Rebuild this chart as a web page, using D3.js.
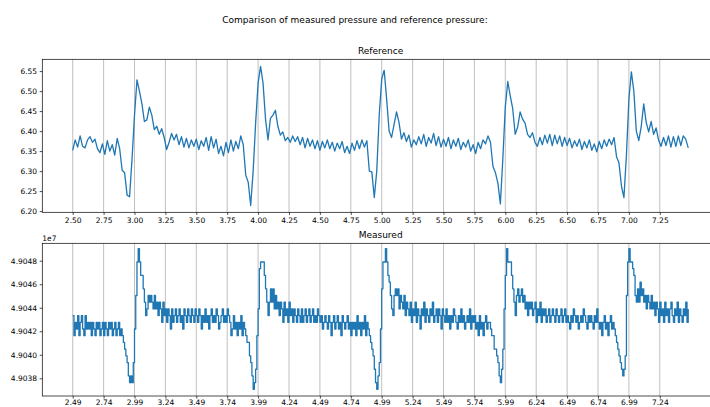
<!DOCTYPE html>
<html>
<head>
<meta charset="utf-8">
<script src="https://cdn.jsdelivr.net/npm/d3@7"></script>
<style>
html,body{margin:0;padding:0;background:#fff;}
svg{display:block;}
text{font-family:"DejaVu Sans",sans-serif;fill:#000;}
</style>
</head>
<body>
<svg id="chart" width="710" height="407"></svg>
<script>
// ---------------- DATA ----------------
const figureTitle = "Comparison of measured pressure and reference pressure:";
const topTitle = "Reference";
const bottomTitle = "Measured";

// Reference pressure, sampled every 0.02 starting at t = 2.50
const referenceStart = 2.50, referenceStep = 0.02;
const referenceValues = [
 6.352,6.378,6.360,6.388,6.362,6.358,6.378,6.386,6.372,6.380,
 6.356,6.346,6.368,6.342,6.376,6.350,6.366,6.340,6.382,6.356,
 6.302,6.296,6.240,6.236,6.330,6.440,6.528,6.500,6.468,6.424,
 6.428,6.460,6.440,6.404,6.412,6.392,6.406,6.384,6.354,6.372,
 6.394,6.378,6.392,6.366,6.386,6.360,6.382,6.358,6.378,6.362,
 6.380,6.354,6.376,6.362,6.384,6.352,6.386,6.358,6.380,6.344,
 6.362,6.338,6.372,6.346,6.378,6.350,6.374,6.356,6.388,6.366,
 6.290,6.272,6.214,6.300,6.420,6.520,6.562,6.520,6.430,6.378,
 6.432,6.440,6.452,6.412,6.390,6.398,6.376,6.384,6.372,6.388,
 6.374,6.386,6.366,6.384,6.358,6.382,6.362,6.378,6.356,6.376,
 6.352,6.374,6.358,6.378,6.356,6.372,6.350,6.370,6.356,6.374,
 6.346,6.362,6.344,6.370,6.352,6.376,6.356,6.378,6.360,6.376,
 6.300,6.298,6.234,6.300,6.440,6.530,6.552,6.480,6.400,6.384,
 6.416,6.448,6.422,6.380,6.396,6.374,6.390,6.360,6.378,6.366,
 6.386,6.368,6.392,6.362,6.384,6.370,6.394,6.364,6.386,6.360,
 6.380,6.362,6.384,6.356,6.378,6.362,6.382,6.354,6.372,6.360,
 6.378,6.350,6.366,6.344,6.372,6.356,6.378,6.368,6.388,6.372,
 6.312,6.296,6.270,6.218,6.330,6.460,6.524,6.488,6.456,6.392,
 6.410,6.448,6.430,6.420,6.392,6.384,6.396,6.372,6.362,6.384,
 6.366,6.390,6.370,6.392,6.364,6.390,6.368,6.388,6.362,6.384,
 6.364,6.382,6.358,6.376,6.362,6.380,6.354,6.374,6.358,6.378,
 6.352,6.368,6.348,6.374,6.356,6.378,6.362,6.380,6.366,6.384,
 6.336,6.320,6.262,6.234,6.340,6.480,6.548,6.500,6.400,6.376,
 6.412,6.468,6.422,6.398,6.424,6.392,6.408,6.378,6.362,6.384,
 6.364,6.388,6.360,6.386,6.362,6.388,6.364,6.388,6.380,6.358
];

// Measured pressure: the sensor is quantised, these are its levels (Pa)
const measuredLevelsPa = [
 49037060,49037630,49038200,49038770,49039340,49039910,49040480,49041050,
 49041620,49042190,49042760,49043330,49043900,49044470,49045040,49045610,
 49046180,49046750,49047320,49047890,49048460,49049030
];
// Level read at each sample, every 0.01 starting at t = 2.49
const measuredStart = 2.49, measuredStep = 0.01;
const measuredLevelIndex = [
 11,8,10,9,11,8,10,11,9,8,11,9,10,
 9,10,8,10,9,8,10,9,10,8,9,10,8,10,9,8,10,9,10,8,9,10,8,9,10,8,9,
 8,7,6,5,4,2,1,2,1,4,9,
 14,19,21,19,17,17,15,13,11,12,14,13,14,13,12,14,12,13,11,13,
 12,10,13,11,12,10,12,11,9,12,10,11,12,10,11,12,10,11,9,12,
 11,10,12,11,10,12,11,10,12,
 11,10,12,11,9,11,10,12,10,11,9,11,12,10,11,10,12,11,9,10,11,12,10,11,10,12,11,
 10,8,9,11,9,10,8,10,9,11,8,10,
 9,8,7,7,5,4,2,0,1,3,8,12,
 18,19,19,19,17,15,13,11,13,15,13,15,12,14,12,13,11,13,12,10,
 13,11,12,10,13,11,12,10,12,11,10,12,11,10,12,10,11,12,10,11,
 12,10,11,12,10,11,10,12,11,
 10,11,9,10,11,10,9,11,10,8,10,11,9,10,11,9,10,8,11,10,9,10,11,9,10,8,10,
 9,10,8,11,9,10,8,10,9,11,8,10,9,
 8,7,6,5,3,1,0,2,4,9,15,
 19,19,21,19,17,16,14,12,11,14,15,14,15,12,14,13,12,14,11,13,
 12,11,13,10,12,11,13,10,12,11,9,12,11,13,10,12,11,10,12,11,
 13,10,11,12,10,12,11,9,12,
 11,10,12,10,11,9,11,10,12,11,10,9,11,10,12,10,11,9,10,11,10,12,9,11,10,11,
 9,10,8,11,9,10,8,10,11,9,10,10,
 9,8,8,6,6,5,4,2,1,3,6,12,17,
 21,19,19,19,17,15,13,11,14,15,13,14,15,13,14,12,13,11,13,12,
 13,11,12,13,10,12,11,13,10,12,11,12,10,11,12,10,11,12,11,10,
 12,11,10,11,12,10,11,12,10,
 11,10,9,11,10,12,11,10,11,9,10,11,10,12,11,10,9,11,10,11,10,9,11,10,12,10,
 9,10,8,10,11,9,10,8,10,11,9,10,9,
 8,7,6,5,4,3,2,3,5,14,19,21,
 19,19,18,17,14,13,15,13,16,14,15,13,14,12,14,13,12,14,12,13,
 11,13,12,10,13,11,12,10,13,11,12,10,12,13,11,10,12,11,13,10,
 12,11,10,12,11,13,10,12
];

// Tick values
const topXTicks = [2.50,2.75,3.00,3.25,3.50,3.75,4.00,4.25,4.50,4.75,5.00,5.25,5.50,5.75,6.00,6.25,6.50,6.75,7.00,7.25];
const bottomXTicks = [2.49,2.74,2.99,3.24,3.49,3.74,3.99,4.24,4.49,4.74,4.99,5.24,5.49,5.74,5.99,6.24,6.49,6.74,6.99,7.24];
const topYTicks = [6.20,6.25,6.30,6.35,6.40,6.45,6.50,6.55];
const bottomYTicks = [49038000,49040000,49042000,49044000,49046000,49048000];
const bottomOffsetLabel = "1e7";

// ---------------- BUILD ----------------
const refData = referenceValues.map((v, i) => ({t: referenceStart + i * referenceStep, v}));
const measData = measuredLevelIndex.map((k, i) => ({t: measuredStart + i * measuredStep, v: measuredLevelsPa[k]}));

const svg = d3.select("#chart");
const W = 710, H = 407;
svg.append("rect").attr("width", W).attr("height", H).attr("fill", "#fff");

const left = 42.3, right = 719;
const tickLen = 2.6, tickFont = 7.5;
const blue = "#1f77b4";

function panel(opts) {
  const {top, bottom, xDomain, yDomain, xTicks, yTicks, xFmt, yFmt, data, title, curve, xPad} = opts;
  const x = d3.scaleLinear().domain(xDomain).range([left, right]);
  const y = d3.scaleLinear().domain(yDomain).range([bottom, top]);
  const g = svg.append("g");

  // grid
  g.append("g").selectAll("line").data(xTicks).join("line")
    .attr("x1", d => x(d)).attr("x2", d => x(d))
    .attr("y1", top).attr("y2", bottom)
    .attr("stroke", "#b0b0b0").attr("stroke-width", 0.8);

  // line
  g.append("path").datum(data)
    .attr("fill", "none").attr("stroke", blue).attr("stroke-width", 1.3)
    .attr("stroke-linejoin", "round").attr("stroke-linecap", "butt")
    .attr("d", d3.line().curve(curve).x(d => x(d.t)).y(d => y(d.v)));

  // spines
  g.append("rect").attr("x", left).attr("y", top)
    .attr("width", right - left).attr("height", bottom - top)
    .attr("fill", "none").attr("stroke", "#000").attr("stroke-width", 0.7);

  // axes
  const xa = g.append("g").attr("transform", `translate(0,${bottom})`)
    .call(d3.axisBottom(x).tickValues(xTicks).tickFormat(xFmt).tickSize(tickLen).tickPadding(xPad));
  const ya = g.append("g").attr("transform", `translate(${left},0)`)
    .call(d3.axisLeft(y).tickValues(yTicks).tickFormat(yFmt).tickSize(tickLen).tickPadding(2.6));
  [xa, ya].forEach(a => {
    a.select(".domain").remove();
    a.selectAll(".tick line").attr("stroke", "#000").attr("stroke-width", 0.7);
    a.selectAll(".tick text").attr("font-family", "DejaVu Sans").attr("font-size", tickFont).attr("fill", "#000");
  });

  // title
  g.append("text").attr("x", (left + right) / 2).attr("y", top - 5)
    .attr("text-anchor", "middle").attr("font-size", 9).text(title);
  return {x, y, g};
}

panel({
  top: 59.3, bottom: 212.3,
  xDomain: [2.254, 7.729], yDomain: [6.197, 6.5795],
  xTicks: topXTicks, yTicks: topYTicks,
  xFmt: d3.format(".2f"), yFmt: d3.format(".2f"),
  data: refData, title: topTitle, curve: d3.curveLinear, xPad: 2.6
});

const bp = panel({
  top: 243.3, bottom: 396,
  xDomain: [2.244, 7.719], yDomain: [49036494, 49049480],
  xTicks: bottomXTicks, yTicks: bottomYTicks,
  xFmt: d3.format(".2f"), yFmt: d => (d / 1e7).toFixed(4),
  data: measData, title: bottomTitle, curve: d3.curveStepAfter, xPad: 0.8
});

bp.g.append("text").attr("x", left).attr("y", 241)
  .attr("font-size", tickFont).text(bottomOffsetLabel);

svg.append("text").attr("x", 355).attr("y", 22.5)
  .attr("text-anchor", "middle").attr("font-size", 9).text(figureTitle);
</script>
</body>
</html>
